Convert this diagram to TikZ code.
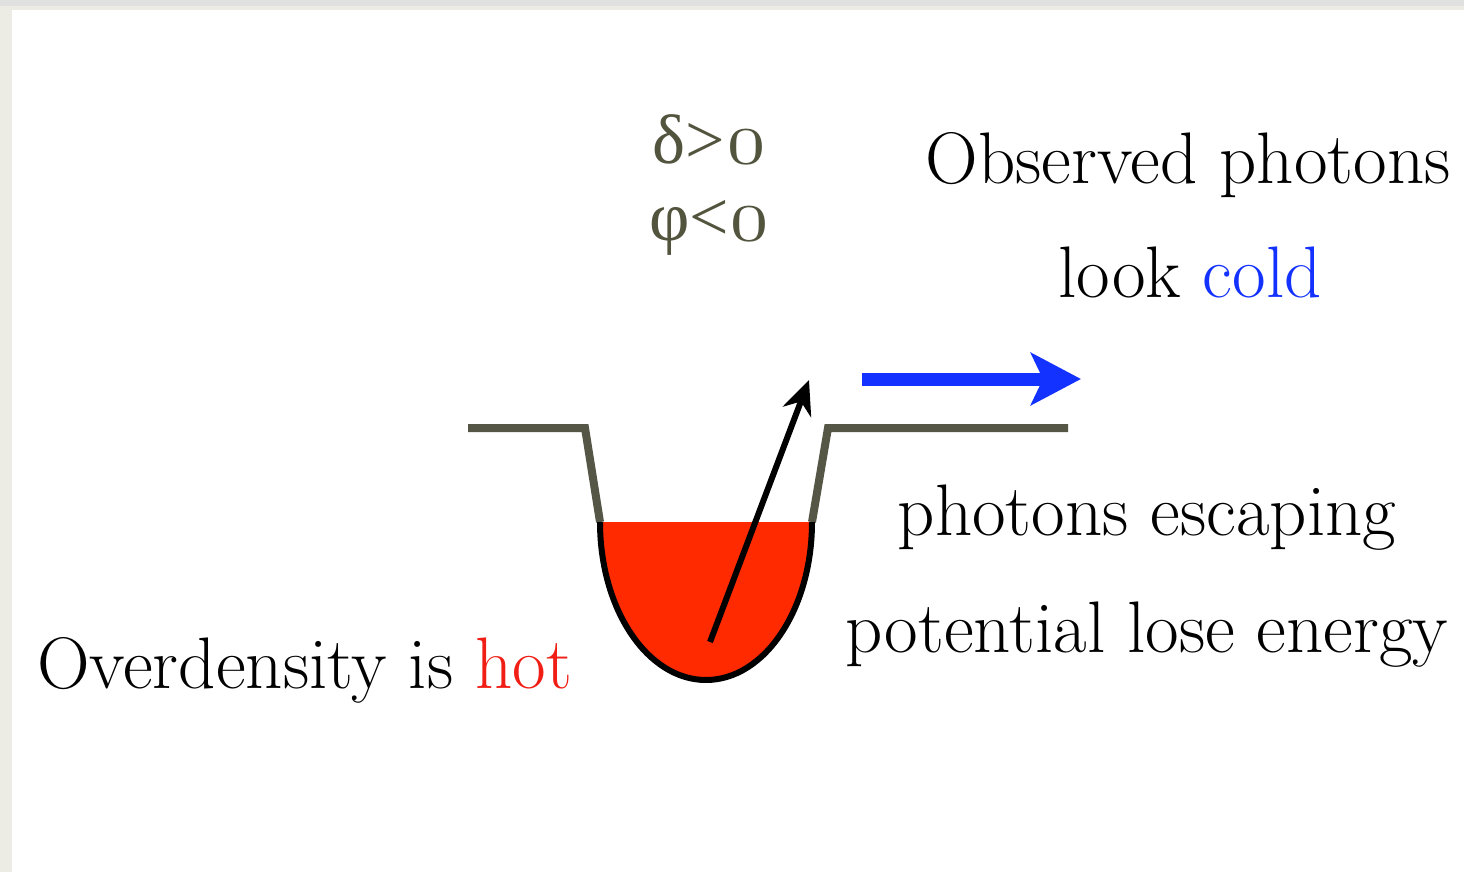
\documentclass[tikz,border=0pt]{standalone}
\usepackage{fontspec}
\usepackage{graphicx}
\usetikzlibrary{arrows.meta}
\newfontfamily\grk{Liberation Serif}
\newcommand{\ozero}{\scalebox{7.6}{\fontsize{10}{12}\selectfont$\mathchar"0130$}}
\definecolor{bgout}{RGB}{236,236,228}
\definecolor{wellc}{RGB}{85,86,70}
\definecolor{greekc}{RGB}{82,84,62}
\definecolor{hotred}{RGB}{255,42,0}
\definecolor{textred}{RGB}{240,30,20}
\definecolor{coldblue}{RGB}{20,50,255}
\tikzset{
  txt/.style={inner sep=0pt, anchor=base, font=\fontsize{73}{80}\selectfont},
  greek/.style={inner sep=0pt, anchor=base, text=greekc, font=\grk\fontsize{70}{76}\selectfont},
  wellline/.style={draw=wellc, line width=8pt, line join=miter},
}
\begin{document}
\begin{tikzpicture}[x=1pt,y=-1pt]
\useasboundingbox (0,0) rectangle (1464,872);
\fill[bgout] (0,0) rectangle (1464,872);
\fill[white] (12,10) rectangle (1464,872);
\fill[black!12] (0,0) rectangle (1464,6);
% well
\coordinate (wl0) at (468,428);
\coordinate (wl1) at (585,428);
\coordinate (wl2) at (600,522);
\coordinate (wr2) at (812,522);
\coordinate (wr1) at (828,428);
\coordinate (wr0) at (1068,428);
\draw[wellline] (wl0) -- (wl1) -- (wl2);
\draw[wellline] (wr2) -- (wr1) -- (wr0);
\fill[hotred] (wl2) -- (wr2) arc[start angle=0, end angle=180, x radius=106pt, y radius=-158pt] -- cycle;
\draw[black, line width=6pt] (wr2) arc[start angle=0, end angle=180, x radius=106pt, y radius=-158pt];
% photon arrow
\coordinate (ps) at (710,642);
\coordinate (pe) at (809,380);
\draw[black, line width=6pt, -{Stealth[length=34pt,width=30pt]}] (ps) -- (pe);
% blue arrow
\coordinate (bs) at (862,379);
\coordinate (be) at (1081,379);
\draw[coldblue, line width=13pt, -{Stealth[length=50pt,width=52pt,inset=12pt]}] (bs) -- (be);
% texts
\node[greek] (delta) at (709,164) {δ>\kern2pt\ozero};
\node[greek] (phi) at (709,240) {φ<\kern2pt\ozero};
\node[txt] (obs) at (1188,183) {Observed photons};
\node[txt] (look) at (1190,297) {look \textcolor{coldblue}{cold}};
\node[txt] (esc) at (1147,535) {photons escaping};
\node[txt] (pot) at (1147,652) {potential lose energy};
\node[txt, anchor=base west] (over) at (37,688) {Overdensity is \textcolor{textred}{hot}};
\end{tikzpicture}
\end{document}
